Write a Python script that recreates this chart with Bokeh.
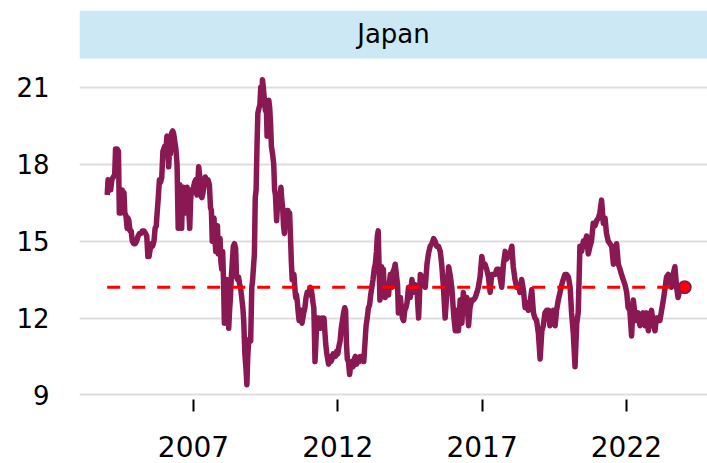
from bokeh.plotting import figure
from bokeh.models import Range1d, FixedTicker, BoxAnnotation, Label
from bokeh.embed import file_html
from bokeh.resources import INLINE

panel_title = "Japan"
x_ticks = [2007, 2012, 2017, 2022]
y_ticks = [9, 12, 15, 18, 21]
mean_level = 13.2

years = [
    2004.01, 2004.04, 2004.07, 2004.10, 2004.13, 2004.17, 2004.22, 2004.27, 2004.30, 2004.35,
    2004.40, 2004.43, 2004.47, 2004.50, 2004.53, 2004.56, 2004.59, 2004.62, 2004.66, 2004.70,
    2004.73, 2004.76, 2004.80, 2004.84, 2004.88, 2004.93, 2004.98, 2005.03, 2005.08, 2005.13,
    2005.18, 2005.23, 2005.28, 2005.34, 2005.38, 2005.42, 2005.46, 2005.50, 2005.54, 2005.58,
    2005.63, 2005.67, 2005.71, 2005.74, 2005.78, 2005.82, 2005.86, 2005.90, 2005.94, 2005.97,
    2006.00, 2006.04, 2006.08, 2006.11, 2006.14, 2006.17, 2006.20, 2006.24, 2006.28, 2006.31,
    2006.35, 2006.39, 2006.43, 2006.47, 2006.50, 2006.53, 2006.56, 2006.59, 2006.62, 2006.65,
    2006.68, 2006.72, 2006.75, 2006.78, 2006.81, 2006.84, 2006.87, 2006.90, 2006.93, 2006.96,
    2007.00, 2007.04, 2007.08, 2007.12, 2007.15, 2007.18, 2007.22, 2007.25, 2007.29, 2007.33,
    2007.37, 2007.41, 2007.45, 2007.50, 2007.55, 2007.59, 2007.62, 2007.65, 2007.68, 2007.71,
    2007.74, 2007.77, 2007.80, 2007.83, 2007.86, 2007.89, 2007.92, 2007.95, 2007.98, 2008.01,
    2008.04, 2008.07, 2008.10, 2008.13, 2008.16, 2008.19, 2008.22, 2008.25, 2008.28, 2008.31,
    2008.34, 2008.38, 2008.42, 2008.46, 2008.49, 2008.53, 2008.56, 2008.60, 2008.63, 2008.67,
    2008.71, 2008.74, 2008.78, 2008.82, 2008.85, 2008.88, 2008.91, 2008.95, 2008.98, 2009.02,
    2009.05, 2009.08, 2009.11, 2009.14, 2009.17, 2009.20, 2009.23, 2009.27, 2009.30, 2009.33,
    2009.36, 2009.39, 2009.42, 2009.45, 2009.49, 2009.52, 2009.55, 2009.58, 2009.61, 2009.64,
    2009.67, 2009.70, 2009.74, 2009.78, 2009.81, 2009.84, 2009.88, 2009.91, 2009.95, 2009.99,
    2010.03, 2010.06, 2010.09, 2010.12, 2010.15, 2010.18, 2010.21, 2010.24, 2010.27, 2010.30,
    2010.33, 2010.36, 2010.39, 2010.42, 2010.45, 2010.48, 2010.51, 2010.54, 2010.57, 2010.60,
    2010.63, 2010.66, 2010.70, 2010.73, 2010.76, 2010.79, 2010.82, 2010.86, 2010.90, 2010.94,
    2010.98, 2011.02, 2011.05, 2011.08, 2011.11, 2011.14, 2011.17, 2011.21, 2011.24, 2011.27,
    2011.30, 2011.34, 2011.37, 2011.40, 2011.43, 2011.46, 2011.49, 2011.52, 2011.55, 2011.58,
    2011.62, 2011.65, 2011.68, 2011.72, 2011.76, 2011.80, 2011.84, 2011.88, 2011.92, 2011.96,
    2012.00, 2012.04, 2012.08, 2012.12, 2012.16, 2012.20, 2012.24, 2012.27, 2012.30, 2012.33,
    2012.37, 2012.41, 2012.45, 2012.49, 2012.53, 2012.57, 2012.61, 2012.65, 2012.69, 2012.74,
    2012.78, 2012.82, 2012.86, 2012.90, 2012.94, 2012.98, 2013.02, 2013.06, 2013.10, 2013.14,
    2013.18, 2013.22, 2013.26, 2013.30, 2013.34, 2013.37, 2013.40, 2013.43, 2013.46, 2013.49,
    2013.52, 2013.55, 2013.58, 2013.61, 2013.64, 2013.67, 2013.70, 2013.73, 2013.76, 2013.79,
    2013.82, 2013.85, 2013.88, 2013.91, 2013.95, 2013.99, 2014.03, 2014.07, 2014.10, 2014.14,
    2014.17, 2014.20, 2014.24, 2014.28, 2014.32, 2014.36, 2014.40, 2014.45, 2014.51, 2014.57,
    2014.62, 2014.68, 2014.74, 2014.80, 2014.86, 2014.91, 2014.97, 2015.03, 2015.09, 2015.14,
    2015.20, 2015.26, 2015.32, 2015.37, 2015.43, 2015.49, 2015.55, 2015.60, 2015.66, 2015.72,
    2015.78, 2015.84, 2015.89, 2015.95, 2016.01, 2016.07, 2016.12, 2016.18, 2016.24, 2016.30,
    2016.35, 2016.41, 2016.47, 2016.53, 2016.58, 2016.64, 2016.70, 2016.76, 2016.82, 2016.87,
    2016.93, 2016.99, 2017.05, 2017.10, 2017.16, 2017.22, 2017.28, 2017.33, 2017.39, 2017.45,
    2017.51, 2017.57, 2017.62, 2017.68, 2017.74, 2017.80, 2017.85, 2017.91, 2017.97, 2018.03,
    2018.08, 2018.14, 2018.20, 2018.26, 2018.31, 2018.37, 2018.43, 2018.49, 2018.55, 2018.60,
    2018.66, 2018.72, 2018.78, 2018.83, 2018.89, 2018.95, 2019.01, 2019.07, 2019.12, 2019.18,
    2019.24, 2019.30, 2019.35, 2019.41, 2019.47, 2019.53, 2019.58, 2019.64, 2019.70, 2019.76,
    2019.81, 2019.87, 2019.93, 2019.99, 2020.05, 2020.10, 2020.16, 2020.22, 2020.28, 2020.33,
    2020.39, 2020.45, 2020.51, 2020.56, 2020.62, 2020.68, 2020.74, 2020.79, 2020.85, 2020.91,
    2020.97, 2021.03, 2021.08, 2021.14, 2021.20, 2021.26, 2021.31, 2021.37, 2021.43, 2021.49,
    2021.55, 2021.60, 2021.66, 2021.72, 2021.78, 2021.83, 2021.89, 2021.95, 2022.01, 2022.06,
    2022.12, 2022.18, 2022.24, 2022.29, 2022.35, 2022.41, 2022.47, 2022.53, 2022.58, 2022.64,
    2022.70, 2022.76, 2022.81, 2022.87, 2022.93, 2022.99, 2023.04, 2023.10, 2023.16, 2023.22,
    2023.28, 2023.33, 2023.39, 2023.45, 2023.51, 2023.56, 2023.62, 2023.68, 2023.74, 2023.79,
    2023.85, 2023.91, 2023.97, 2024.02,
]

values = [
    16.8, 17.4, 17.0, 17.3, 17.0, 17.4, 17.5, 17.6, 18.6, 18.6,
    18.5, 16.1, 17.0, 16.1, 17.0, 16.3, 16.9, 16.1, 16.0, 15.5,
    15.9, 15.8, 15.4, 15.4, 15.0, 14.9, 14.9, 15.0, 15.2, 15.3,
    15.3, 15.4, 15.4, 15.3, 15.2, 14.4, 14.4, 14.7, 14.9, 14.8,
    15.0, 15.5, 15.6, 16.1, 16.7, 17.4, 17.3, 17.5, 18.5, 18.6,
    18.7, 18.5, 19.1, 18.5, 17.9, 18.6, 18.4, 19.2, 19.3, 19.2,
    18.9, 18.6, 18.0, 15.5, 16.8, 17.2, 16.3, 15.5, 16.9, 17.1,
    16.5, 16.1, 16.8, 17.1, 16.3, 16.1, 15.5, 16.6, 17.0, 16.9,
    17.1, 17.3, 17.4, 16.8, 17.3, 17.9, 17.5, 16.8, 16.7, 16.9,
    17.2, 17.5, 17.4, 17.4, 17.2, 16.3, 16.2, 15.0, 15.5, 15.9,
    15.2, 14.6, 15.2, 15.6, 14.5, 14.9, 15.1, 14.2, 13.9, 14.6,
    13.5, 11.8, 12.5, 13.4, 13.5, 12.6, 11.6, 12.3, 12.8, 13.6,
    14.1, 14.8, 14.9, 14.7, 13.6, 13.5, 13.6, 13.3, 13.2, 12.8,
    12.4, 11.9, 10.6, 10.0, 9.4, 10.5, 11.1, 11.2, 11.1, 13.2,
    13.5, 14.0, 14.5, 16.7, 17.0, 18.7, 20.0, 20.2, 20.3, 21.0,
    20.5, 21.3, 21.0, 20.6, 20.1, 20.4, 19.1, 20.0, 20.5, 20.2,
    19.6, 18.7, 18.4, 18.0, 17.0, 16.8, 15.8, 16.4, 16.3, 16.6,
    17.1, 16.6, 16.3, 15.6, 15.3, 15.9, 16.1, 16.2, 16.2, 15.7,
    16.1, 15.2, 14.2, 13.5, 13.6, 13.7, 13.2, 12.8, 12.9, 12.6,
    12.2, 11.9, 12.1, 12.3, 11.8, 12.0, 12.2, 12.4, 12.8, 13.0,
    12.9, 13.1, 13.2, 13.1, 12.9, 12.6, 12.4, 10.3, 11.0, 11.9,
    12.0, 12.0, 11.7, 11.6, 11.9, 12.0, 11.9, 12.0, 11.5, 11.0,
    10.6, 10.4, 10.2, 10.5, 10.3, 10.4, 10.6, 10.5, 10.5, 10.7,
    10.6, 10.9, 11.1, 11.6, 11.9, 12.2, 12.4, 12.3, 11.0, 10.4,
    10.3, 9.8, 10.2, 10.3, 10.1, 10.4, 10.5, 10.2, 10.4, 10.3,
    10.5, 10.4, 10.5, 10.3, 11.0, 11.7, 12.0, 12.4, 12.5, 12.9,
    13.2, 13.5, 13.9, 14.1, 14.6, 15.2, 15.4, 14.0, 12.7, 13.6,
    14.0, 13.1, 13.9, 13.0, 12.8, 13.3, 13.1, 13.2, 12.9, 13.4,
    13.7, 13.3, 13.2, 13.8, 13.9, 14.1, 13.7, 13.3, 12.2, 12.5,
    12.8, 12.4, 12.0, 11.9, 12.3, 12.4, 12.6, 13.2, 12.8, 13.5,
    13.0, 13.3, 13.2, 12.0, 13.7, 13.6, 13.6, 13.2, 14.1, 14.5,
    14.8, 14.9, 15.1, 15.0, 14.8, 14.8, 14.6, 14.1, 13.2, 12.0,
    13.0, 14.0, 13.7, 13.2, 12.2, 11.5, 12.3, 11.5, 12.7, 11.8,
    13.0, 12.2, 12.8, 11.7, 12.4, 12.7, 12.7, 12.8, 13.0, 13.2,
    13.6, 14.4, 14.0, 14.1, 13.9, 13.6, 13.0, 13.7, 13.7, 13.7,
    13.9, 13.9, 13.6, 13.2, 14.1, 14.6, 14.3, 14.4, 14.5, 14.8,
    14.0, 13.5, 13.2, 13.3, 13.0, 13.5, 13.1, 12.4, 12.6, 12.3,
    12.6, 13.1, 12.2, 12.0, 11.9, 11.4, 10.4, 11.5, 11.7, 12.2,
    12.3, 12.3, 11.7, 12.0, 12.3, 11.7, 12.3, 12.7, 13.0, 13.3,
    13.5, 13.7, 13.7, 13.6, 13.2, 12.2, 11.4, 10.1, 11.8, 12.2,
    14.8, 14.6, 15.0, 14.9, 15.2, 14.5, 14.8, 15.0, 15.7, 15.6,
    15.8, 15.9, 16.1, 16.6, 15.7, 15.9, 15.3, 15.0, 14.9, 14.8,
    14.1, 14.6, 14.9, 14.1, 13.9, 13.7, 13.5, 13.3, 13.0, 12.4,
    12.3, 11.3, 12.7, 12.2, 11.9, 12.2, 11.7, 12.0, 12.2, 11.7,
    12.2, 11.5, 12.0, 12.3, 11.8, 11.5, 12.0, 12.0, 11.9, 12.3,
    12.7, 13.1, 13.6, 13.7, 13.6, 13.2, 13.7, 14.0, 13.2, 12.8,
    13.1, 13.1, 13.2, 13.2,
]

FONT = "DejaVu Sans"
LINE_COLOR = "#891853"
STRIP_COLOR = "#CCE8F4"

x_start, x_end = 2003.05, 2024.81
y_start, y_end = 8.82, 24.0
strip_bottom = 22.13

p = figure(
    width=707, height=463,
    output_backend="svg", toolbar_location=None,
    x_range=Range1d(x_start, x_end), y_range=Range1d(y_start, y_end),
    min_border_left=79, min_border_right=0, min_border_top=10, min_border_bottom=64,
)
p.outline_line_color = None
p.background_fill_color = "white"
p.border_fill_color = "white"

# strip header
p.add_layout(BoxAnnotation(bottom=strip_bottom, fill_color=STRIP_COLOR, fill_alpha=1.0,
                           line_color=None, level="underlay"))
p.add_layout(Label(x=(x_start + x_end) / 2, y=(strip_bottom + y_end) / 2,
                   text=panel_title, text_align="center", text_baseline="middle",
                   text_font=FONT, text_font_size="26px", text_color="black"))

# grid
p.xgrid.visible = False
p.ygrid.ticker = FixedTicker(ticks=y_ticks)
p.ygrid.grid_line_color = "#DDDDDD"
p.ygrid.grid_line_width = 2

# axes
p.xaxis.ticker = FixedTicker(ticks=x_ticks)
p.yaxis.ticker = FixedTicker(ticks=y_ticks)
for ax in (p.xaxis[0], p.yaxis[0]):
    ax.axis_line_color = None
    ax.minor_tick_line_color = None
    ax.major_label_text_font = FONT
    ax.major_label_text_color = "black"
p.xaxis.major_tick_line_color = "black"
p.xaxis.major_tick_line_width = 2
p.xaxis.major_tick_in = 0
p.xaxis.major_tick_out = 12
p.xaxis.major_label_standoff = 24
p.xaxis.major_label_text_font_size = "28px"
p.yaxis.major_tick_line_color = None
p.yaxis.major_tick_in = 0
p.yaxis.major_tick_out = 0
p.yaxis.major_label_standoff = 30
p.yaxis.major_label_text_font_size = "26px"

# data
p.line(years, values, line_color=LINE_COLOR, line_width=5.5, line_join="round")
p.line([years[0], years[-1]], [mean_level, mean_level], line_color="#FF0000",
       line_width=3, line_dash="13 12")
p.scatter([years[-1]], [values[-1]], size=12, fill_color="#FF0000",
          line_color=LINE_COLOR, line_width=2)

open("out.html", "w").write(file_html(p, INLINE))
